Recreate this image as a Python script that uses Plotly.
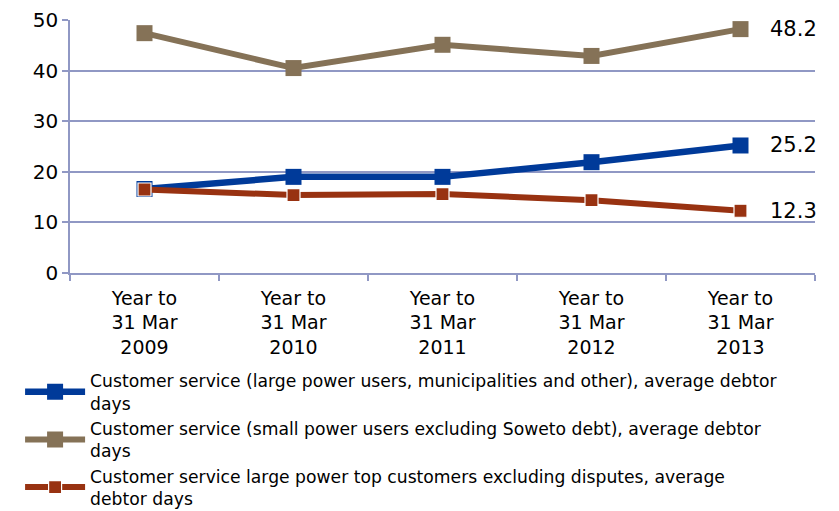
import plotly.graph_objects as go

categories = ["Year to<br>31 Mar<br>2009", "Year to<br>31 Mar<br>2010", "Year to<br>31 Mar<br>2011",
              "Year to<br>31 Mar<br>2012", "Year to<br>31 Mar<br>2013"]

large_power = [16.6, 19.0, 19.0, 21.9, 25.2]
small_power = [47.4, 40.5, 45.1, 42.9, 48.2]
top_customers = [16.5, 15.4, 15.6, 14.4, 12.3]

names = [
    "Customer service (large power users, municipalities and other), average debtor<br>days",
    "Customer service (small power users excluding Soweto debt), average debtor<br>days",
    "Customer service large power top customers excluding disputes, average<br>debtor days",
]

BLUE = "#003A99"
BROWN = "#857257"
RED = "#983211"
GRID = "#9098C4"
FONT = "DejaVu Sans, Liberation Sans, Arial, sans-serif"

fig = go.Figure()

series = [
    (large_power, names[0], BLUE, 6.5, 16, 0),
    (small_power, names[1], BROWN, 6, 16, 0),
    (top_customers, names[2], RED, 6, 13, 1.2),
]

for vals, name, color, lw, ms, mlw in series:
    fig.add_trace(go.Scatter(
        x=categories, y=vals, name=name,
        mode="lines+markers",
        line=dict(color=color, width=lw),
        marker=dict(symbol="square", size=ms, color=color,
                    line=dict(width=mlw, color="white")),
        cliponaxis=False,
    ))
    # value label beside the final point
    fig.add_annotation(
        x=categories[-1], y=vals[-1], text=f"{vals[-1]:.1f}",
        showarrow=False, xanchor="left", yanchor="middle", xshift=27,
        font=dict(family=FONT, size=21, color="#000000"),
    )

fig.update_layout(
    width=839, height=511,
    margin=dict(l=70, r=24, t=20, b=238, autoexpand=False),
    plot_bgcolor="white", paper_bgcolor="white",
    font=dict(family=FONT, size=18, color="#000000"),
    showlegend=True,
    legend=dict(
        x=-0.067, xanchor="left",
        y=0.29, yref="container", yanchor="top",
        font=dict(family=FONT, size=17.2, color="#000000"),
        itemwidth=60, tracegroupgap=0,
        bgcolor="rgba(0,0,0,0)",
    ),
)

fig.update_xaxes(
    type="category",
    range=[-0.5, 4.5],
    tickson="boundaries",
    ticks="outside", ticklen=6, tickcolor=GRID, tickwidth=1.5,
    showline=True, linecolor=GRID, linewidth=1.5,
    showgrid=False,
    ticklabelstandoff=7,
    tickfont=dict(family=FONT, size=19),
)

fig.update_yaxes(
    range=[0, 50], dtick=10,
    ticks="outside", ticklen=6, tickcolor=GRID, tickwidth=1.5,
    showline=True, linecolor=GRID, linewidth=1.5,
    showgrid=True, gridcolor=GRID, gridwidth=1.5,
    zeroline=False,
    tickfont=dict(family=FONT, size=20),
)

fig.write_html("out.html")
